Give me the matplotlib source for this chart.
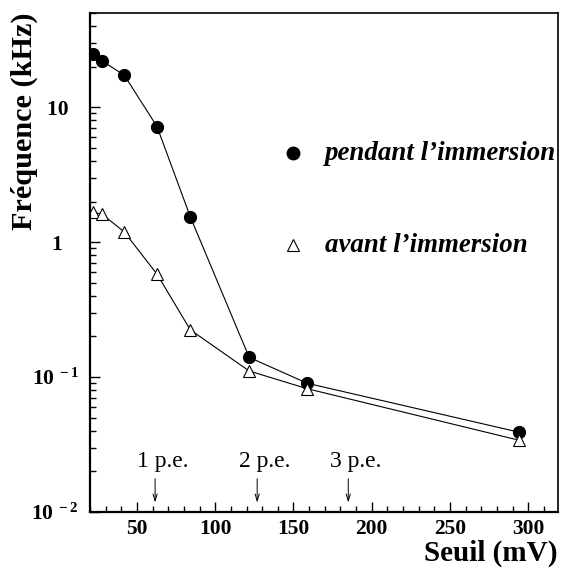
import matplotlib
matplotlib.use("Agg")
import matplotlib.pyplot as plt
from matplotlib.ticker import FixedLocator, MultipleLocator, LogLocator, NullFormatter

plt.rcParams['font.family'] = ['Liberation Serif', 'DejaVu Serif']
plt.rcParams['mathtext.fontset'] = 'custom'
plt.rcParams['mathtext.rm'] = 'Liberation Serif:bold'
plt.rcParams['mathtext.bf'] = 'Liberation Serif:bold'

# seuil (mV)
seuil_pendant = [21.7, 27.9, 41.9, 62.8, 84.1, 121.7, 158.8, 294.3]
freq_pendant = [24.7, 22.0, 17.3, 7.2, 1.54, 0.14, 0.090, 0.039]

seuil_avant = [21.7, 27.9, 41.9, 62.8, 84.1, 121.7, 158.8, 294.3]
freq_avant = [1.67, 1.61, 1.19, 0.58, 0.224, 0.111, 0.082, 0.034]

pe_labels = ["1 p.e.", "2 p.e.", "3 p.e."]
pe_seuils = [61.6, 126.8, 185.0]

ytick_vals = [0.01, 0.1, 1, 10]
ytick_text = [r'$\mathbf{10^{\,-2}}$', r'$\mathbf{10^{\,-1}}$', '1   ', '10  ']

fig = plt.figure(figsize=(5.63, 5.68), dpi=100)
ax = fig.add_axes([90/563, 1 - 512/568, 468/563, 499/568])

ax.plot(seuil_pendant, freq_pendant, color='black', lw=0.8, marker='o',
        markersize=8.5, markerfacecolor='black', markeredgecolor='black')
ax.plot(seuil_avant, freq_avant, color='black', lw=0.8, marker='^',
        markersize=9, markerfacecolor='white', markeredgecolor='black', markeredgewidth=0.8)

ax.set_yscale('log')
ax.set_xlim(20, 319)
ax.set_ylim(0.01, 50)

ax.xaxis.set_major_locator(MultipleLocator(50))
ax.xaxis.set_minor_locator(MultipleLocator(10))
ax.yaxis.set_major_locator(FixedLocator(ytick_vals))
ax.yaxis.set_minor_locator(LogLocator(base=10, subs=range(2, 10)))
ax.yaxis.set_minor_formatter(NullFormatter())
ax.set_yticklabels(ytick_text)

ax.tick_params(which='both', direction='in', top=False, right=False)
ax.tick_params(which='major', length=7, width=1)
ax.tick_params(which='minor', length=4, width=1)
ax.tick_params(axis='x', labelsize=15.5, pad=5)
ax.tick_params(axis='y', labelsize=15.5, pad=8)
for lab in ax.get_xticklabels():
    lab.set_fontweight('bold')
for lab in ax.get_yticklabels():
    lab.set_fontweight('bold')

for side in ['left', 'bottom']:
    ax.spines[side].set_linewidth(1.6)
for side in ['top', 'right']:
    ax.spines[side].set_linewidth(1.2)

# p.e. markers
for lab, s in zip(pe_labels, pe_seuils):
    ax.annotate('', xy=(s, 0.0112), xytext=(s, 0.0185),
                arrowprops=dict(arrowstyle='->,head_length=0.5,head_width=0.15', lw=0.7, color='black'))
    ax.text(s + 5, 0.0238, lab, ha='center', va='center', fontsize=17)

# legend
ax.plot([0.433], [0.719], 'o', color='black', markersize=9, transform=ax.transAxes, clip_on=False)
ax.plot([0.433], [0.535], '^', markerfacecolor='white', markeredgecolor='black', markersize=9,
        markeredgewidth=0.8, transform=ax.transAxes, clip_on=False)
ax.text(0.502, 0.719, 'pendant l\u2019immersion', transform=ax.transAxes, va='center', ha='left',
        fontsize=19.4, fontweight='bold', fontstyle='italic', clip_on=False)
ax.text(0.502, 0.535, 'avant l\u2019immersion', transform=ax.transAxes, va='center', ha='left',
        fontsize=19.4, fontweight='bold', fontstyle='italic', clip_on=False)

fig.text(24/563, 1 - 13/568, 'Fréquence (kHz)', rotation=90, ha='center', va='top',
         fontsize=21.8, fontweight='bold')
fig.text(558/563, 1 - 561/568, 'Seuil (mV)', ha='right', va='baseline',
         fontsize=21, fontweight='bold')

fig.savefig('out.png', dpi=100)
